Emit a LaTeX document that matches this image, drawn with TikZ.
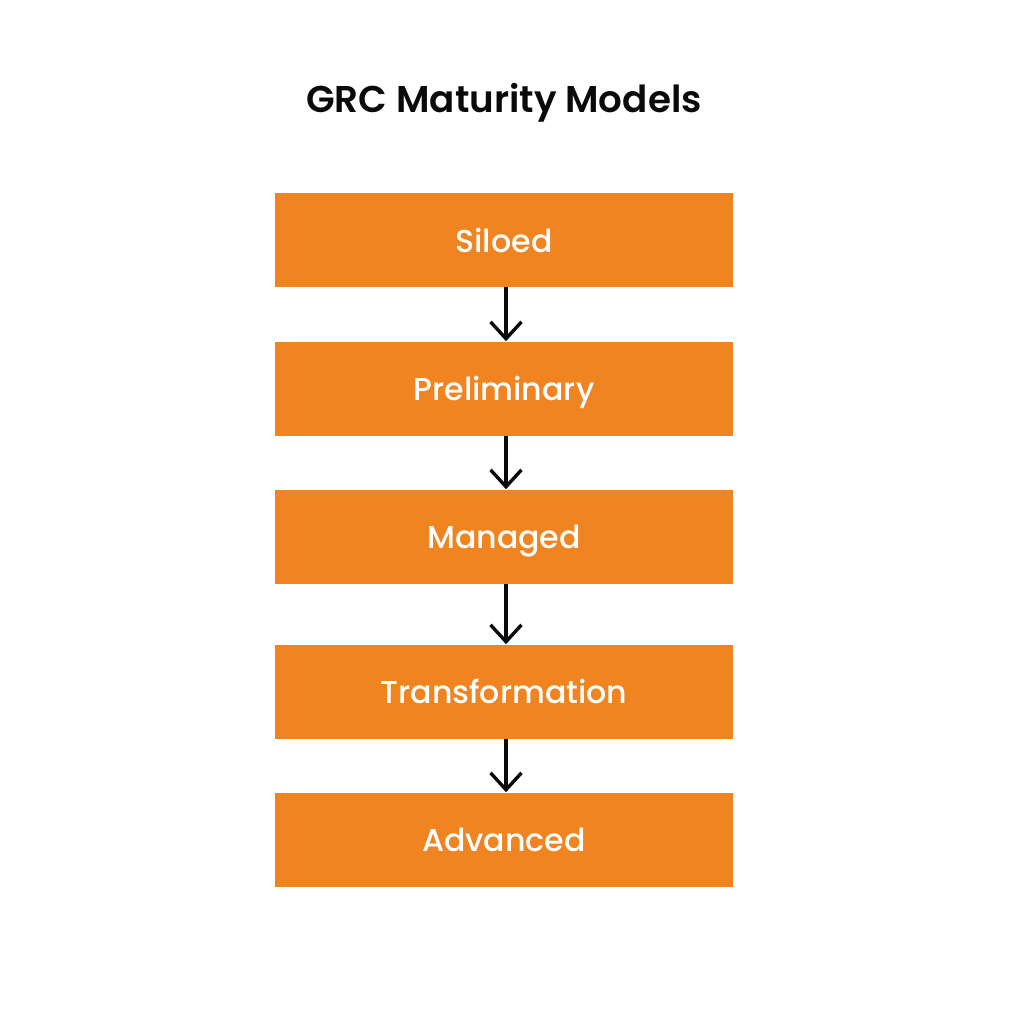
\documentclass[tikz,border=0pt]{standalone}
\usepackage{fontspec}
\setmainfont{Poppins}
\newfontfamily\stagefont{Poppins Medium}
\newfontfamily\headfont{Poppins SemiBold}
\usepackage{xcolor}
\usetikzlibrary{arrows.meta}
\definecolor{stage}{HTML}{EF8420}
\definecolor{ink}{HTML}{0A0A0A}
\tikzset{
  level/.style={fill=stage, minimum width=458*0.025cm, minimum height=94*0.025cm, inner sep=0pt, text depth=0pt, text=white, font=\stagefont\fontsize{22.5}{27}\selectfont},
  flow/.style={draw=ink, line width=2.4pt, -{Straight Barb[length=12pt, width=22pt, line width=2.4pt]}},
  heading/.style={text=ink, font=\headfont\fontsize{26.5}{31}\selectfont}
}

\begin{document}
\begin{tikzpicture}[x=0.025cm, y=-0.025cm]
  \useasboundingbox (0,0) rectangle (1010,1024);

  \node[heading] (title) at (504,103) {GRC Maturity Models};

  \node[level] (siloed) at (504,240) {Siloed};
  \node[level] (prelim) at (504,388.5) {Preliminary};
  \node[level] (managed) at (504,536.5) {Managed};
  \node[level] (transf) at (504,691.5) {Transformation};
  \node[level] (adv) at (504,839.5) {Advanced};

  \draw[flow] (siloed.south -| 506,0) -- (prelim.north -| 506,0);
  \draw[flow] (prelim.south -| 506,0) -- (managed.north -| 506,0);
  \draw[flow] (managed.south -| 506,0) -- (transf.north -| 506,0);
  \draw[flow] (transf.south -| 506,0) -- (adv.north -| 506,0);
\end{tikzpicture}
\end{document}
